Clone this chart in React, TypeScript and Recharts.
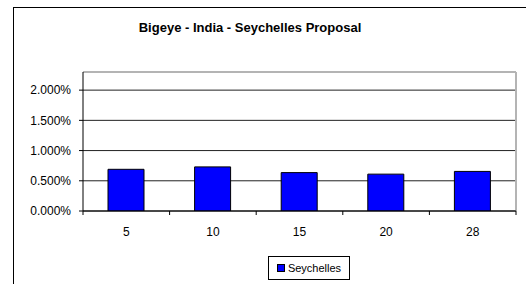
import { Bar, BarChart, CartesianGrid, Legend, ReferenceLine, XAxis, YAxis } from "recharts";

// Bigeye - India - Seychelles Proposal
const categories = ["5", "10", "15", "20", "28"];
const seychelles = [0.0069, 0.0073, 0.00635, 0.0061, 0.00655];
const yTicks = [0, 0.005, 0.01, 0.015, 0.02];
const yMax = 0.023;

const data = categories.map((c, i) => ({ cat: c, seychelles: seychelles[i] }));

const FONT = "'Liberation Sans', Arial, sans-serif";
const FRAME_GRAY = "#b4b4b4";
const TICK_MARGIN = 16;

// Etiqueta centrada + marcas de tick en los bordes de cada categoría (estilo Excel)
function CategoryTick(props: any) {
  const { x, y, payload, index, width } = props;
  const band = width / categories.length;
  const axisY = y - TICK_MARGIN;
  const left = x - band / 2;
  return (
    <g>
      <line x1={left} x2={left} y1={axisY} y2={axisY + 4} stroke="#000" />
      {index === categories.length - 1 && (
        <line x1={left + band} x2={left + band} y1={axisY} y2={axisY + 4} stroke="#000" />
      )}
      <text x={x} y={y} dy="0.71em" textAnchor="middle" fill="#000" fontSize={12} fontFamily={FONT}>
        {payload.value}
      </text>
    </g>
  );
}

function LegendBox() {
  return (
    <div
      style={{
        border: "1px solid #000",
        width: 82,
        height: 24,
        boxSizing: "border-box",
        display: "flex",
        alignItems: "center",
        justifyContent: "center",
        fontFamily: FONT,
        fontSize: 11,
        color: "#000",
        background: "#fff",
      }}
    >
      <span
        style={{
          display: "inline-block",
          width: 6,
          height: 6,
          background: "#0000ff",
          border: "1px solid #000",
          marginRight: 3,
        }}
      />
      Seychelles
    </div>
  );
}

export default function App() {
  return (
    <div
      style={{
        position: "fixed",
        left: 0,
        top: 0,
        width: 526,
        height: 284,
        background: "#fff",
        overflow: "hidden",
      }}
    >
      <div
        style={{
          position: "absolute",
          left: 13,
          top: 7,
          width: 600,
          height: 400,
          borderLeft: "1px solid #000",
          borderTop: "1px solid #000",
        }}
      />
      <div
        style={{
          position: "absolute",
          left: 0,
          width: 500,
          top: 20,
          textAlign: "center",
          fontFamily: FONT,
          fontWeight: "bold",
          fontSize: 13,
          color: "#000",
        }}
      >
        Bigeye - India - Seychelles Proposal
      </div>
      <BarChart
        width={526}
        height={284}
        data={data}
        margin={{ top: 72, right: 10, left: 0, bottom: 0 }}
        style={{ position: "absolute", left: 0, top: 0 }}
      >
        <CartesianGrid horizontal vertical={false} stroke="#222" />
        <XAxis
          dataKey="cat"
          axisLine={{ stroke: "#000" }}
          tickLine={false}
          tickSize={0}
          tickMargin={TICK_MARGIN}
          tick={<CategoryTick />}
          height={73}
        />
        <YAxis
          domain={[0, yMax]}
          ticks={yTicks}
          allowDataOverflow
          axisLine={{ stroke: "#000" }}
          tickLine={{ stroke: "#000" }}
          tickSize={4}
          tickMargin={8}
          tick={{ fill: "#000", fontSize: 12, fontFamily: FONT }}
          tickFormatter={(v: number) => (v * 100).toFixed(3) + "%"}
          width={83}
        />
        <ReferenceLine y={yMax} stroke={FRAME_GRAY} strokeWidth={2} />
        <ReferenceLine
          x={categories[categories.length - 1]}
          position="end"
          stroke={FRAME_GRAY}
          strokeWidth={2}
        />
        <Legend
          layout="horizontal"
          verticalAlign="middle"
          align="center"
          content={() => <LegendBox />}
          wrapperStyle={{ position: "absolute", left: 268, top: 256, width: 82 }}
        />
        <Bar
          dataKey="seychelles"
          name="Seychelles"
          fill="#0000ff"
          stroke="#000"
          strokeWidth={1}
          barSize={36}
          isAnimationActive={false}
        />
      </BarChart>
    </div>
  );
}
